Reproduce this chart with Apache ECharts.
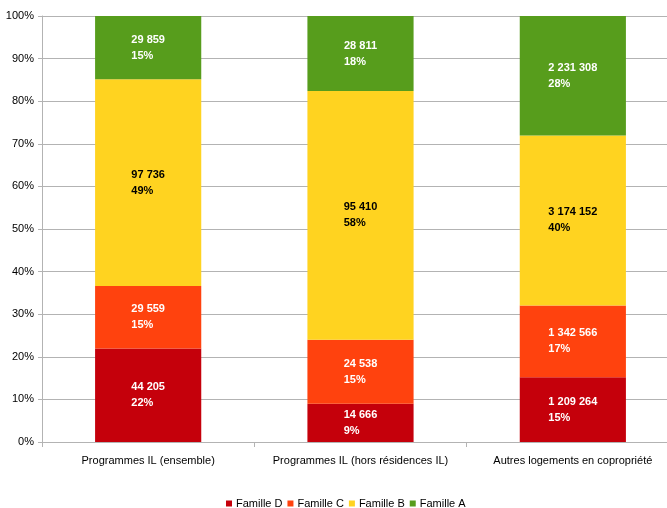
<!DOCTYPE html>
<html>
<head>
<meta charset="utf-8">
<script src="https://cdn.jsdelivr.net/npm/echarts@6/dist/echarts.min.js"></script>
<style>
  html, body { margin: 0; padding: 0; background: #fff; }
  #chart { width: 667px; height: 508px; }
</style>
</head>
<body>
<div id="chart"></div>
<script>
// Number of dwellings per family, for each programme group
const categories = ['Programmes IL (ensemble)', 'Programmes IL (hors résidences IL)', 'Autres logements en copropriété'];
const familleD = [44205, 14666, 1209264];
const familleC = [29559, 24538, 1342566];
const familleB = [97736, 95410, 3174152];
const familleA = [29859, 28811, 2231308];
const yTicks = [0, 10, 20, 30, 40, 50, 60, 70, 80, 90, 100];

const FONT = '"Liberation Sans", Arial, sans-serif';

const totals = categories.map((_, i) => familleD[i] + familleC[i] + familleB[i] + familleA[i]);

function fmt(n) {
  return String(n).replace(/\B(?=(\d{3})+(?!\d))/g, ' ');
}

function makeSeries(name, values, color, textColor) {
  return {
    name: name,
    type: 'bar',
    stack: 'total',
    barWidth: '50%',
    itemStyle: { color: color },
    data: values.map((v, i) => ({ value: v / totals[i] * 100, raw: v })),
    label: {
      show: true,
      position: 'inside',
      formatter: p => '{t|' + fmt(p.data.raw) + '}\n{t|' + Math.round(p.value) + '%}',
      rich: {
        t: {
          align: 'left',
          color: textColor,
          fontFamily: FONT,
          fontWeight: 'bold',
          fontSize: 11,
          lineHeight: 16
        }
      }
    },
    emphasis: { disabled: true }
  };
}

const chart = echarts.init(document.getElementById('chart'), null, { renderer: 'canvas' });
chart.setOption({
  animation: false,
  backgroundColor: '#ffffff',
  // the last category extends a little past the right edge of the canvas
  grid: { left: 42, top: 16, width: 637, height: 426, containLabel: false, outerBoundsMode: 'none' },
  legend: {
    top: 498,
    left: 226,
    padding: 0,
    itemWidth: 6,
    itemHeight: 6,
    itemGap: 5,
    icon: 'rect',
    textStyle: { fontFamily: FONT, fontSize: 11, color: '#000', padding: [0, 0, 0, -1] },
    data: ['Famille D', 'Famille C', 'Famille B', 'Famille A']
  },
  xAxis: {
    type: 'category',
    data: categories,
    boundaryGap: true,
    axisLine: { lineStyle: { color: '#b3b3b3' } },
    axisTick: { show: true, length: 5, lineStyle: { color: '#b3b3b3' } },
    axisLabel: { margin: 13, fontFamily: FONT, fontSize: 11, color: '#000', interval: 0 }
  },
  yAxis: {
    type: 'value',
    min: yTicks[0],
    max: yTicks[yTicks.length - 1],
    interval: yTicks[1] - yTicks[0],
    axisLine: { show: true, lineStyle: { color: '#b3b3b3' } },
    axisTick: { show: true, length: 4, lineStyle: { color: '#b3b3b3' } },
    splitLine: { lineStyle: { color: '#b3b3b3' } },
    axisLabel: { margin: 8, fontFamily: FONT, fontSize: 11, color: '#000', formatter: '{value}%' }
  },
  series: [
    makeSeries('Famille D', familleD, '#c5000b', '#ffffff'),
    makeSeries('Famille C', familleC, '#ff420e', '#ffffff'),
    makeSeries('Famille B', familleB, '#ffd320', '#000000'),
    makeSeries('Famille A', familleA, '#579d1c', '#ffffff')
  ]
});
</script>
</body>
</html>
